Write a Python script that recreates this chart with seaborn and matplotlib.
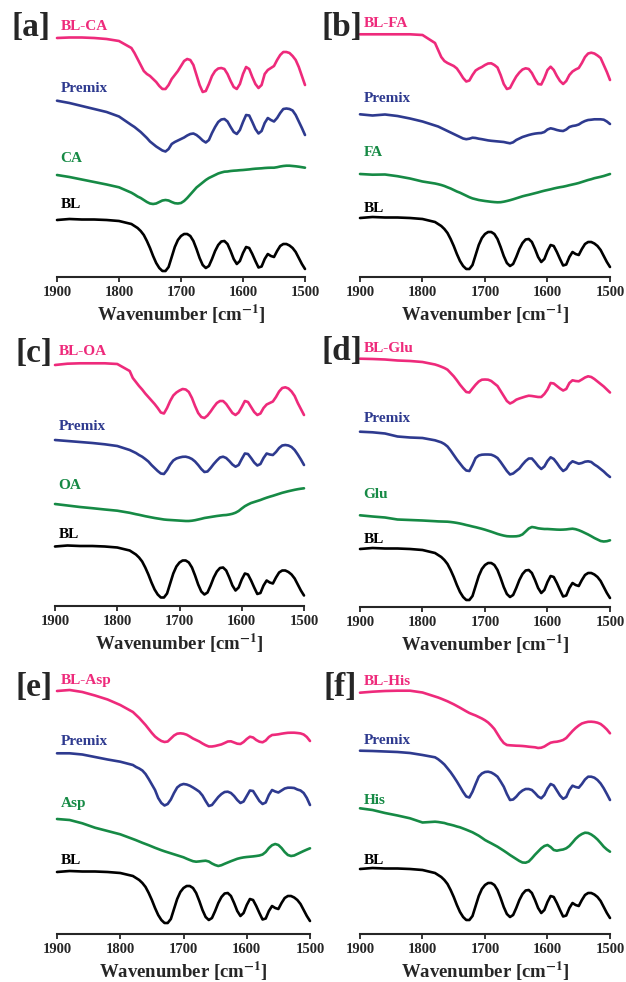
import numpy as np
import pandas as pd
import matplotlib
matplotlib.use('Agg')
import matplotlib.pyplot as plt
import seaborn as sns

# Viļņu skaitļi [cm-1]: retāk plakanajā daļā, ik pa 5 zem 1780
wn = [1900, 1880, 1860, 1840, 1820, 1800, 1780] + list(range(1775, 1499, -5))

# Intensitātes (a.u., nolasītas no attēla), BL ir vienāds visos paneļos
bl = [57, 58, 57.5, 57.5, 57, 56, 53,
      51, 49, 46, 42, 36, 29, 21, 14, 9, 6,
      6, 10, 20, 30, 37, 41, 43, 43, 41, 36,
      28, 19, 12, 9, 11, 18, 26, 32, 35.5, 36,
      33, 26, 18, 13, 16, 24, 30, 29, 23, 16,
      9.5, 10.5, 18, 23, 21, 20, 26, 31, 33, 33,
      31.5, 29, 25, 19, 13, 8]

# [a] CA
bl_ca = [239, 239.5, 239.5, 239, 238, 236, 229,
         224, 218, 212, 206, 203, 201, 198, 195, 191, 188,
         188, 192, 198, 202, 206, 211, 216, 218, 217, 212,
         202, 192, 185, 186, 193, 201, 206, 208.5, 209, 208,
         203, 196, 190, 188, 193, 203, 210, 208, 200, 193,
         189, 192, 203, 207, 209, 211, 217, 222, 225, 225,
         224, 221, 217, 210, 201, 192]
premix_ca = [176.3, 174, 171, 168, 165, 160.5, 152,
             150, 147.5, 145, 142, 139, 135.5, 133, 130.5, 128.5, 126.5,
             125.5, 128, 133, 135, 136.5, 138, 139.5, 141.5, 143, 143.5,
             142, 139.5, 136.5, 134.5, 137, 144, 150, 155, 157.5, 158,
             155.5, 150, 145, 143, 147, 155, 162, 161.5, 155, 148,
             143.5, 146, 154, 159, 157, 155.5, 159, 164, 168, 168.5,
             168, 166.5, 162, 155.5, 149, 142]
ca = [102, 100, 97.5, 95, 92.5, 89.7, 84.3,
      82.5, 80.5, 79, 77, 75, 73.5, 73, 73.5, 75, 76.5,
      77, 76.5, 75, 73.8, 73.5, 74, 76, 79, 82.5, 86,
      89.5, 92, 94.5, 97, 99, 100.5, 102, 103.5, 104.5, 105.3,
      105.5, 106, 106.3, 106.5, 106.8, 107, 107.3, 107.6, 108, 108.3,
      108.5, 108.7, 109, 109.2, 109.3, 109.3, 109.8, 110.5, 111, 111.3,
      111.3, 111, 110.7, 110.3, 109.8, 109.3]

# [b] FA
bl_fa = [242.7, 242.7, 242.7, 242.7, 242.7, 242, 234,
         227, 220, 216, 214, 212.5, 211, 208.5, 204, 199, 195.5,
         196.5, 202, 206.5, 208.5, 210, 212, 213.5, 213.7, 212, 209.5,
         202, 193, 188, 189, 195, 200.5, 204.5, 207.5, 208.7, 208,
         204, 198, 193, 192.5, 199, 207, 210.3, 207, 201, 196,
         193, 196, 202, 205.5, 207.5, 209, 214, 220, 223.5, 224.3,
         223.5, 221.5, 219, 212, 205, 197]
premix_fa = [162.7, 161.5, 162.5, 161, 158.5, 155.5, 151.5,
             150.5, 149, 147.5, 146, 144.5, 143, 141.5, 140, 138.5, 137.8,
             138.3, 139.3, 139, 138.3, 137.8, 137.2, 136.6, 136.2, 135.9, 135.6,
             135.3, 135, 134.3, 133.7, 134.7, 137, 138.5, 140, 141, 142,
             142.8, 143.4, 143.8, 144, 145, 147.5, 148.7, 148, 147, 146.3,
             146, 147.5, 150, 151, 151.5, 152.5, 154.5, 156, 157, 157.3,
             157.7, 157.7, 157.7, 157.3, 155.5, 153]
fa = [103, 102.3, 102.5, 100.8, 98.5, 95.5, 93.5,
      92.8, 92, 91, 89.7, 88.5, 87, 85.5, 84.3, 82.8, 81.3,
      79.8, 78.6, 77.8, 77, 76.5, 76, 75.6, 75.2, 74.9, 74.7,
      74.8, 75.3, 76, 76.8, 77.7, 78.7, 79.7, 80.7, 81.5, 82.2,
      83, 83.8, 84.6, 85.5, 86.3, 87, 87.7, 88.5, 89.2, 89.8,
      90.3, 91, 91.8, 92.5, 93.2, 94, 95, 96, 97, 97.8,
      98.8, 99.5, 100.2, 101, 102, 103]

# [c] OA
bl_oa = [241, 242.3, 242.7, 242.7, 242.7, 242, 235,
         228, 224, 220, 216.5, 212.5, 209, 205.5, 202, 198, 193.5,
         192.5, 198, 205, 210.5, 213.5, 215.5, 217, 216.5, 214, 208,
         200, 193, 189, 188, 190.5, 194.5, 199, 203, 205, 205,
         202, 197.5, 193, 191, 193.5, 199, 205, 204, 199, 194,
         191, 192.5, 198, 201.5, 203, 204.5, 209, 214.5, 218, 218.7,
         217.5, 214.5, 210, 203, 197, 191]
premix_oa = [166, 165, 164, 163, 161.7, 160, 156,
             154.5, 153, 151, 149.3, 147, 144.5, 141, 138, 135, 132.5,
             132, 136, 141.5, 145.5, 147.5, 148.5, 149.2, 149.3, 148.5, 147,
             144.5, 141, 137, 134, 134.5, 138, 142, 145.5, 148.5, 149.3,
             148, 145, 141.5, 139.3, 141, 147, 152.5, 152, 148, 143.5,
             140.5, 142, 148, 152.5, 151.5, 151, 154, 158, 160.5, 161,
             160.5, 159, 156, 151.5, 146.5, 141]
oa = [102, 100.5, 99, 97.8, 96.5, 95.3, 93.2,
      92.5, 91.8, 91.2, 90.5, 89.8, 89.2, 88.6, 88, 87.5, 87,
      86.5, 86.2, 86, 85.8, 85.6, 85.4, 85.2, 85, 85, 85.3,
      85.8, 86.5, 87.2, 88, 88.5, 89, 89.5, 90, 90.4, 90.8,
      91, 91.5, 92.2, 93.3, 95, 97.5, 99.8, 101.5, 103, 104,
      105, 106, 107.2, 108.3, 109.3, 110.2, 111.2, 112.2, 113.2, 114,
      114.8, 115.5, 116.2, 116.8, 117.3, 117.7]

# [d] Glu
bl_glu = [248.3, 248, 247.5, 246.5, 246, 245, 242.5,
          241.5, 240.3, 239, 237.3, 234, 230.7, 226.7, 222.3, 218.5, 215,
          214.5, 218.5, 222.3, 225.5, 227.3, 227.5, 227.3, 226, 223.5, 221,
          216, 211, 206, 203.5, 205, 207.3, 208.5, 209.5, 210.5, 211.3,
          211, 210.5, 210, 210, 213, 217.5, 224, 223.5, 221, 218.5,
          216.5, 218, 224, 226.7, 226, 225.7, 227.5, 229.5, 230.7, 230,
          228, 225.5, 223, 220.5, 217.5, 214.5]
premix_glu = [175.3, 174.7, 173.5, 170.5, 169.5, 169, 166.7,
              165.7, 164.7, 163, 160.5, 156.5, 152, 147.5, 143.5, 139.5, 136.5,
              136, 142, 149, 151.5, 152.3, 152.5, 152.5, 152.3, 151, 149,
              145, 140.5, 136, 132.5, 133.5, 136, 138.5, 142.5, 146, 148.5,
              148.5, 145, 141, 138, 140.5, 146, 149.7, 148, 144, 139.5,
              136, 138, 143, 145.7, 144.5, 143.3, 144, 145.3, 145.7, 145,
              142.5, 140.5, 138, 135.5, 132.5, 130]
glu = [91.7, 90.5, 89.5, 87.5, 87, 86.5, 85.8,
       85.6, 85.5, 85.4, 85.3, 85, 84.6, 84.1, 83.5, 82.8, 82,
       81.3, 80.5, 79.8, 79, 78.2, 77.3, 76.3, 75.3, 74.2, 73.1,
       72.2, 71.4, 70.8, 70.6, 70.6, 70.7, 71.2, 72.6, 75.5, 78.5,
       80, 79.5, 78.7, 78.3, 78, 78, 77.8, 77.6, 77.4, 77.3,
       77.4, 77.6, 78, 78.3, 77.8, 76.8, 75.5, 74, 72.5, 70.8,
       69, 67.5, 66, 65.5, 65.8, 66.7]

# [e] Asp
bl_asp = [243, 244, 242, 238.5, 234.5, 229, 222,
          219, 216, 212.5, 209, 205, 201, 197.5, 195, 193, 192,
          192.5, 195.5, 198.5, 200.3, 200.7, 200.3, 199.3, 197.5, 195.5, 194,
          192.5, 190.5, 188.8, 187.5, 187.5, 188, 188.8, 189.6, 191, 192.5,
          192.7, 191.5, 190.3, 190, 192, 195, 197.3, 196.5, 194, 192.3,
          191.7, 193.5, 197, 199, 199.3, 199.7, 200.3, 200.8, 201.2, 201.3,
          201.3, 201, 200.6, 199.5, 197, 193]
premix_asp = [180.7, 180.7, 179.5, 177, 174.5, 172.3, 169,
              167, 165.5, 163.5, 160, 155, 149.5, 144, 136, 131, 128.5,
              130, 134.5, 141, 146.5, 149, 150, 149.5, 148.3, 146.5, 144.5,
              142.3, 138.5, 133, 128, 129, 133, 137, 140, 142, 142.3,
              141, 138, 134, 131, 132.5, 138, 143.5, 143, 138, 133,
              130, 131.5, 139, 144, 142.5, 141.5, 143.5, 145.5, 146.3, 146.3,
              146, 144.5, 143.5, 141, 136, 129]
asp = [115, 114, 110.7, 106.3, 103, 99.7, 95,
       93.8, 92.5, 91.2, 90, 88.8, 87.5, 86.2, 85, 83.8, 82.7,
       81.7, 80.7, 79.7, 78.7, 77.7, 76.7, 75.3, 74, 72.8, 72.3,
       72.6, 73, 73.3, 72.5, 70.5, 69, 68, 68.8, 70.2, 71.5,
       72.8, 74, 75.2, 76, 76.6, 77, 77.3, 77.6, 78, 78.5,
       79.5, 82, 86, 88.8, 90, 89, 86, 82, 79, 78,
       78.5, 80, 81.5, 83, 84.4, 85.7]

# [f] His
bl_his = [241.3, 242.3, 243, 243.3, 243.3, 241.5, 237.5,
          236.5, 235.3, 234, 232.7, 231.2, 229.7, 228, 226.3, 224.5, 222.7,
          221, 219.7, 218.5, 217, 215.5, 213.7, 211.5, 208.5, 205, 200,
          195, 191, 189, 188.7, 188.5, 188.3, 188.2, 188, 187.7, 187.3,
          187, 186.7, 186, 186.3, 187.5, 189.5, 191.3, 192, 192.3, 193,
          194, 196, 199.5, 203, 206, 208.5, 210.5, 211.5, 212.2, 212.3,
          212, 211.3, 210, 207.5, 204.5, 200.7]
premix_his = [183.3, 183, 182.5, 182, 181, 179, 176.7,
              174.8, 172.3, 169.5, 165.7, 161.8, 157.3, 152.5, 147.3, 142, 137.5,
              136.5, 142.3, 150, 157.3, 160.5, 162, 162.3, 161.5, 159.7, 157.3,
              152.5, 147.3, 140, 134, 134.5, 137.3, 141, 143.5, 145, 145,
              144, 141, 137.5, 135.7, 139, 145.5, 150, 148.5, 143.5, 138.5,
              135.2, 137, 144, 148.3, 147, 146.3, 150, 154.5, 157.3, 157.3,
              156.3, 154, 150.5, 145.7, 140, 134]
his = [125.7, 124, 121, 118.5, 115.7, 111.5, 112.3,
       112, 111.5, 111, 110, 109.3, 108.5, 107.5, 106.7, 105.5, 104.3,
       103, 101.7, 100, 98.3, 96.2, 94, 92.3, 90.7, 89, 87.3,
       85.3, 83.3, 81.2, 79, 77, 75, 73, 71.5, 71.3, 72.5,
       75.7, 79.3, 82.5, 85.7, 88, 89, 87, 84, 83.3, 84,
       84.5, 85.7, 88, 91.5, 95.2, 98, 100, 101.3, 101, 99.5,
       97.3, 94.5, 91, 87.3, 84.5, 82.3]

tags = ['[a]', '[b]', '[c]', '[d]', '[e]', '[f]']
additives = ['CA', 'FA', 'OA', 'Glu', 'Asp', 'His']
mix_series = [bl_ca, bl_fa, bl_oa, bl_glu, bl_asp, bl_his]
premix_series = [premix_ca, premix_fa, premix_oa, premix_glu, premix_asp, premix_his]
add_series = [ca, fa, oa, glu, asp, his]
xticks = [1900, 1800, 1700, 1600, 1500]

# Izkārtojums pikseļos: kreisā mala, labā mala, x ass līnija
W, H = 626, 982
boxes = [(57, 305, 277), (360, 610, 277),
         (55, 304, 606), (360, 610, 607),
         (57, 310, 934), (360, 610, 934)]
tag_pos = [(12, 28), (322, 28), (15, 353), (322, 352), (15, 687), (323, 687)]
bl_shift = [0, 2, 2.5, 1, 5, 8]
# nosaukumu augstumi: BL-X, Premix, X, BL
label_h = [(250, 189, 119, 72), (253.7, 178, 124, 69),
           (254.3, 179.3, 120.3, 71), (258, 188, 112.3, 67.3),
           (253.3, 192.3, 130.7, 74), (252.3, 193.3, 134, 74)]

c_pink, c_blue, c_green, c_black = '#EE2A7B', '#2E3A8F', '#168A45', '#000000'

sns.set_style('ticks')
plt.rcParams['font.family'] = ['Liberation Serif', 'DejaVu Serif']
plt.rcParams['font.weight'] = 'bold'
plt.rcParams['mathtext.fontset'] = 'stix'

fig = plt.figure(figsize=(W / 100, H / 100), dpi=100)

for i in range(6):
    left, right, axis_y = boxes[i]
    ax = fig.add_axes([left / W, 1 - axis_y / H, (right - left) / W, 250 / H])
    name = additives[i]
    bl_vals = [v + bl_shift[i] for v in bl]
    df = pd.DataFrame({'wn': wn, 'mix': mix_series[i], 'premix': premix_series[i],
                       'add': add_series[i], 'bl': bl_vals})
    for col, color in [('mix', c_pink), ('premix', c_blue), ('add', c_green), ('bl', c_black)]:
        sns.lineplot(data=df, x='wn', y=col, ax=ax, color=color, linewidth=1.9,
                     sort=False, estimator=None, clip_on=False)
    names = ['BL-' + name, 'Premix', name, 'BL']
    colors = [c_pink, c_blue, c_green, c_black]
    for txt, h, col in zip(names, label_h[i], colors):
        ax.text(1894, h, txt, color=col, fontsize=11, fontweight='bold',
                ha='left', va='center')
    ax.set_xlim(1900, 1500)
    ax.set_ylim(0, 250)
    ax.set_xticks(xticks)
    ax.set_xticklabels([str(t) for t in xticks], fontsize=10.5, fontweight='bold')
    ax.set_yticks([])
    ax.set_ylabel('')
    ax.set_xlabel(r'Wavenumber [cm$^{\mathbf{-1}}$]', fontsize=13.5,
                  fontweight='bold', labelpad=3)
    for s in ['top', 'right', 'left']:
        ax.spines[s].set_visible(False)
    ax.spines['bottom'].set_linewidth(1.5)
    ax.tick_params(axis='x', direction='out', length=3.5, width=1.3, pad=3)
    ax.patch.set_alpha(0)
    tx, ty = tag_pos[i]
    fig.text(tx / W, 1 - ty / H, tags[i], fontsize=24, fontweight='bold',
             ha='left', va='center')

fig.savefig('out.png', dpi=100)
